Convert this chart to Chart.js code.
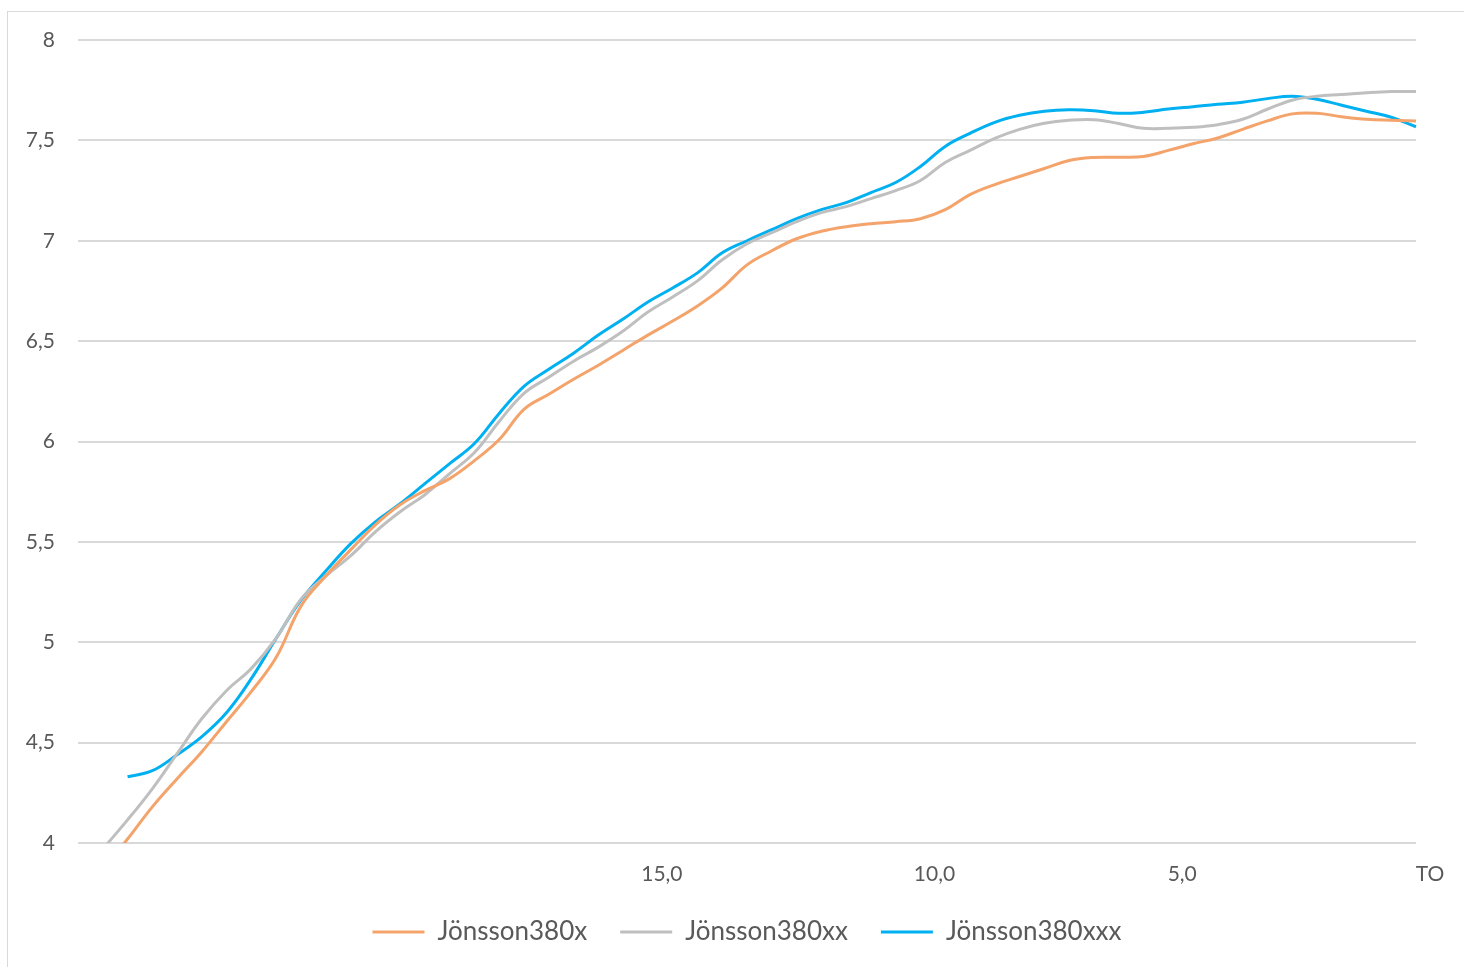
<!DOCTYPE html>
<html><head><meta charset="utf-8">
<script src="https://cdn.jsdelivr.net/npm/chart.js@4/dist/chart.umd.min.js"></script>
<style>
html,body{margin:0;padding:0;background:#fff;overflow:hidden;}
#frame{position:absolute;left:7px;top:11px;width:2000px;height:2000px;border-left:1.5px solid #D9D9D9;border-top:1.5px solid #D9D9D9;}
#wrap{position:absolute;left:0;top:0;width:1464px;height:967px;}
</style></head><body>
<div id="frame"></div>
<div id="wrap"><canvas id="c" width="1464" height="967"></canvas></div>
<script>
const categories = ['', '', '', '', '', '', '', '', '', '', '',
  '', '', '', '', '', '', '', '', '', '', '', '',
  '15,0', '', '', '', '', '', '', '', '', '', '',
  '10,0', '', '', '', '', '', '', '', '', '',
  '5,0', '', '', '', '', '', '', '', '', '',
  'TO'];

const seriesNames = ['Jönsson380x', 'Jönsson380xx', 'Jönsson380xxx'];

const jonsson380x = [null, 3.87, 4.02, 4.18, 4.32, 4.455, 4.605, 4.755, 4.925, 5.18,
  5.33, 5.46, 5.585, 5.685, 5.755, 5.815, 5.905, 6.01, 6.16, 6.235,
  6.31, 6.38, 6.455, 6.53, 6.60, 6.675, 6.765, 6.88, 6.95, 7.01,
  7.047, 7.07, 7.085, 7.095, 7.11, 7.155, 7.23, 7.28, 7.32, 7.36,
  7.40, 7.415, 7.416, 7.42, 7.45, 7.483, 7.512, 7.555, 7.597, 7.632,
  7.635, 7.618, 7.605, 7.60, 7.597];

const jonsson380xx = [null, 3.97, 4.115, 4.27, 4.445, 4.62, 4.76, 4.87, 5.02, 5.215,
  5.33, 5.43, 5.55, 5.65, 5.735, 5.84, 5.945, 6.10, 6.24, 6.32,
  6.40, 6.47, 6.55, 6.645, 6.72, 6.80, 6.905, 6.985, 7.04, 7.095,
  7.14, 7.17, 7.21, 7.25, 7.30, 7.39, 7.45, 7.51, 7.555, 7.585,
  7.60, 7.603, 7.584, 7.56, 7.56, 7.565, 7.578, 7.605, 7.655, 7.70,
  7.72, 7.728, 7.737, 7.743, 7.743];

const jonsson380xxx = [null, null, 4.33, 4.36, 4.44, 4.53, 4.65, 4.82, 5.02, 5.21,
  5.355, 5.49, 5.60, 5.69, 5.79, 5.89, 5.99, 6.14, 6.275, 6.36,
  6.44, 6.53, 6.61, 6.695, 6.765, 6.84, 6.94, 7.00, 7.055, 7.11,
  7.155, 7.19, 7.24, 7.29, 7.37, 7.47, 7.535, 7.59, 7.625, 7.645,
  7.652, 7.648, 7.635, 7.64, 7.656, 7.668, 7.68, 7.69, 7.708, 7.72,
  7.705, 7.675, 7.645, 7.615, 7.568];

const yMin = 4, yMax = 8, yStep = 0.5;
const colors = ['#F4A36B', '#BFBFBF', '#00B0F0'];
const textColor = '#595959';
const fontFamily = 'Lato, "Open Sans", sans-serif';

const seriesData = [jonsson380x, jonsson380xx, jonsson380xxx];

new Chart(document.getElementById('c'), {
  type: 'line',
  data: {
    labels: categories,
    datasets: seriesData.map((d, i) => ({
      label: seriesNames[i],
      data: d,
      borderColor: colors[i],
      backgroundColor: colors[i],
      borderWidth: 3,
      pointRadius: 0,
      tension: 0.4,
      fill: false,
      spanGaps: false
    }))
  },
  options: {
    responsive: false,
    animation: false,
    layout: { padding: { left: 0, right: 0, top: 40, bottom: 12 } },
    plugins: {
      tooltip: { enabled: false },
      legend: {
        position: 'bottom',
        fullSize: false,
        labels: {
          font: { family: fontFamily, size: 26 },
          color: textColor,
          boxWidth: 52,
          boxHeight: 3,
          padding: 33,
          generateLabels(chart) {
            return Chart.defaults.plugins.legend.labels.generateLabels(chart).map(it => {
              it.fillStyle = it.strokeStyle;
              it.lineWidth = 0;
              return it;
            });
          }
        }
      }
    },
    scales: {
      x: {
        type: 'category',
        grid: { display: false, drawTicks: false },
        border: { display: false },
        ticks: {
          autoSkip: false,
          maxRotation: 0,
          minRotation: 0,
          labelOffset: 14,
          padding: 19,
          color: textColor,
          font: { family: fontFamily, size: 21 }
        },
        afterFit(s) { s.height = 43; }
      },
      y: {
        min: yMin,
        max: yMax,
        grid: { color: '#D9D9D9', lineWidth: 2, drawTicks: false },
        border: { display: false },
        ticks: {
          stepSize: yStep,
          padding: 23,
          color: textColor,
          font: { family: fontFamily, size: 21 },
          callback: v => String(v).replace('.', ',')
        },
        afterFit(s) { s.width = 78; }
      },
      y2: {
        position: 'right',
        display: true,
        grid: { display: false },
        border: { display: false },
        ticks: { display: false },
        afterFit(s) { s.width = 48; }
      }
    }
  }
});
</script>
</body></html>
